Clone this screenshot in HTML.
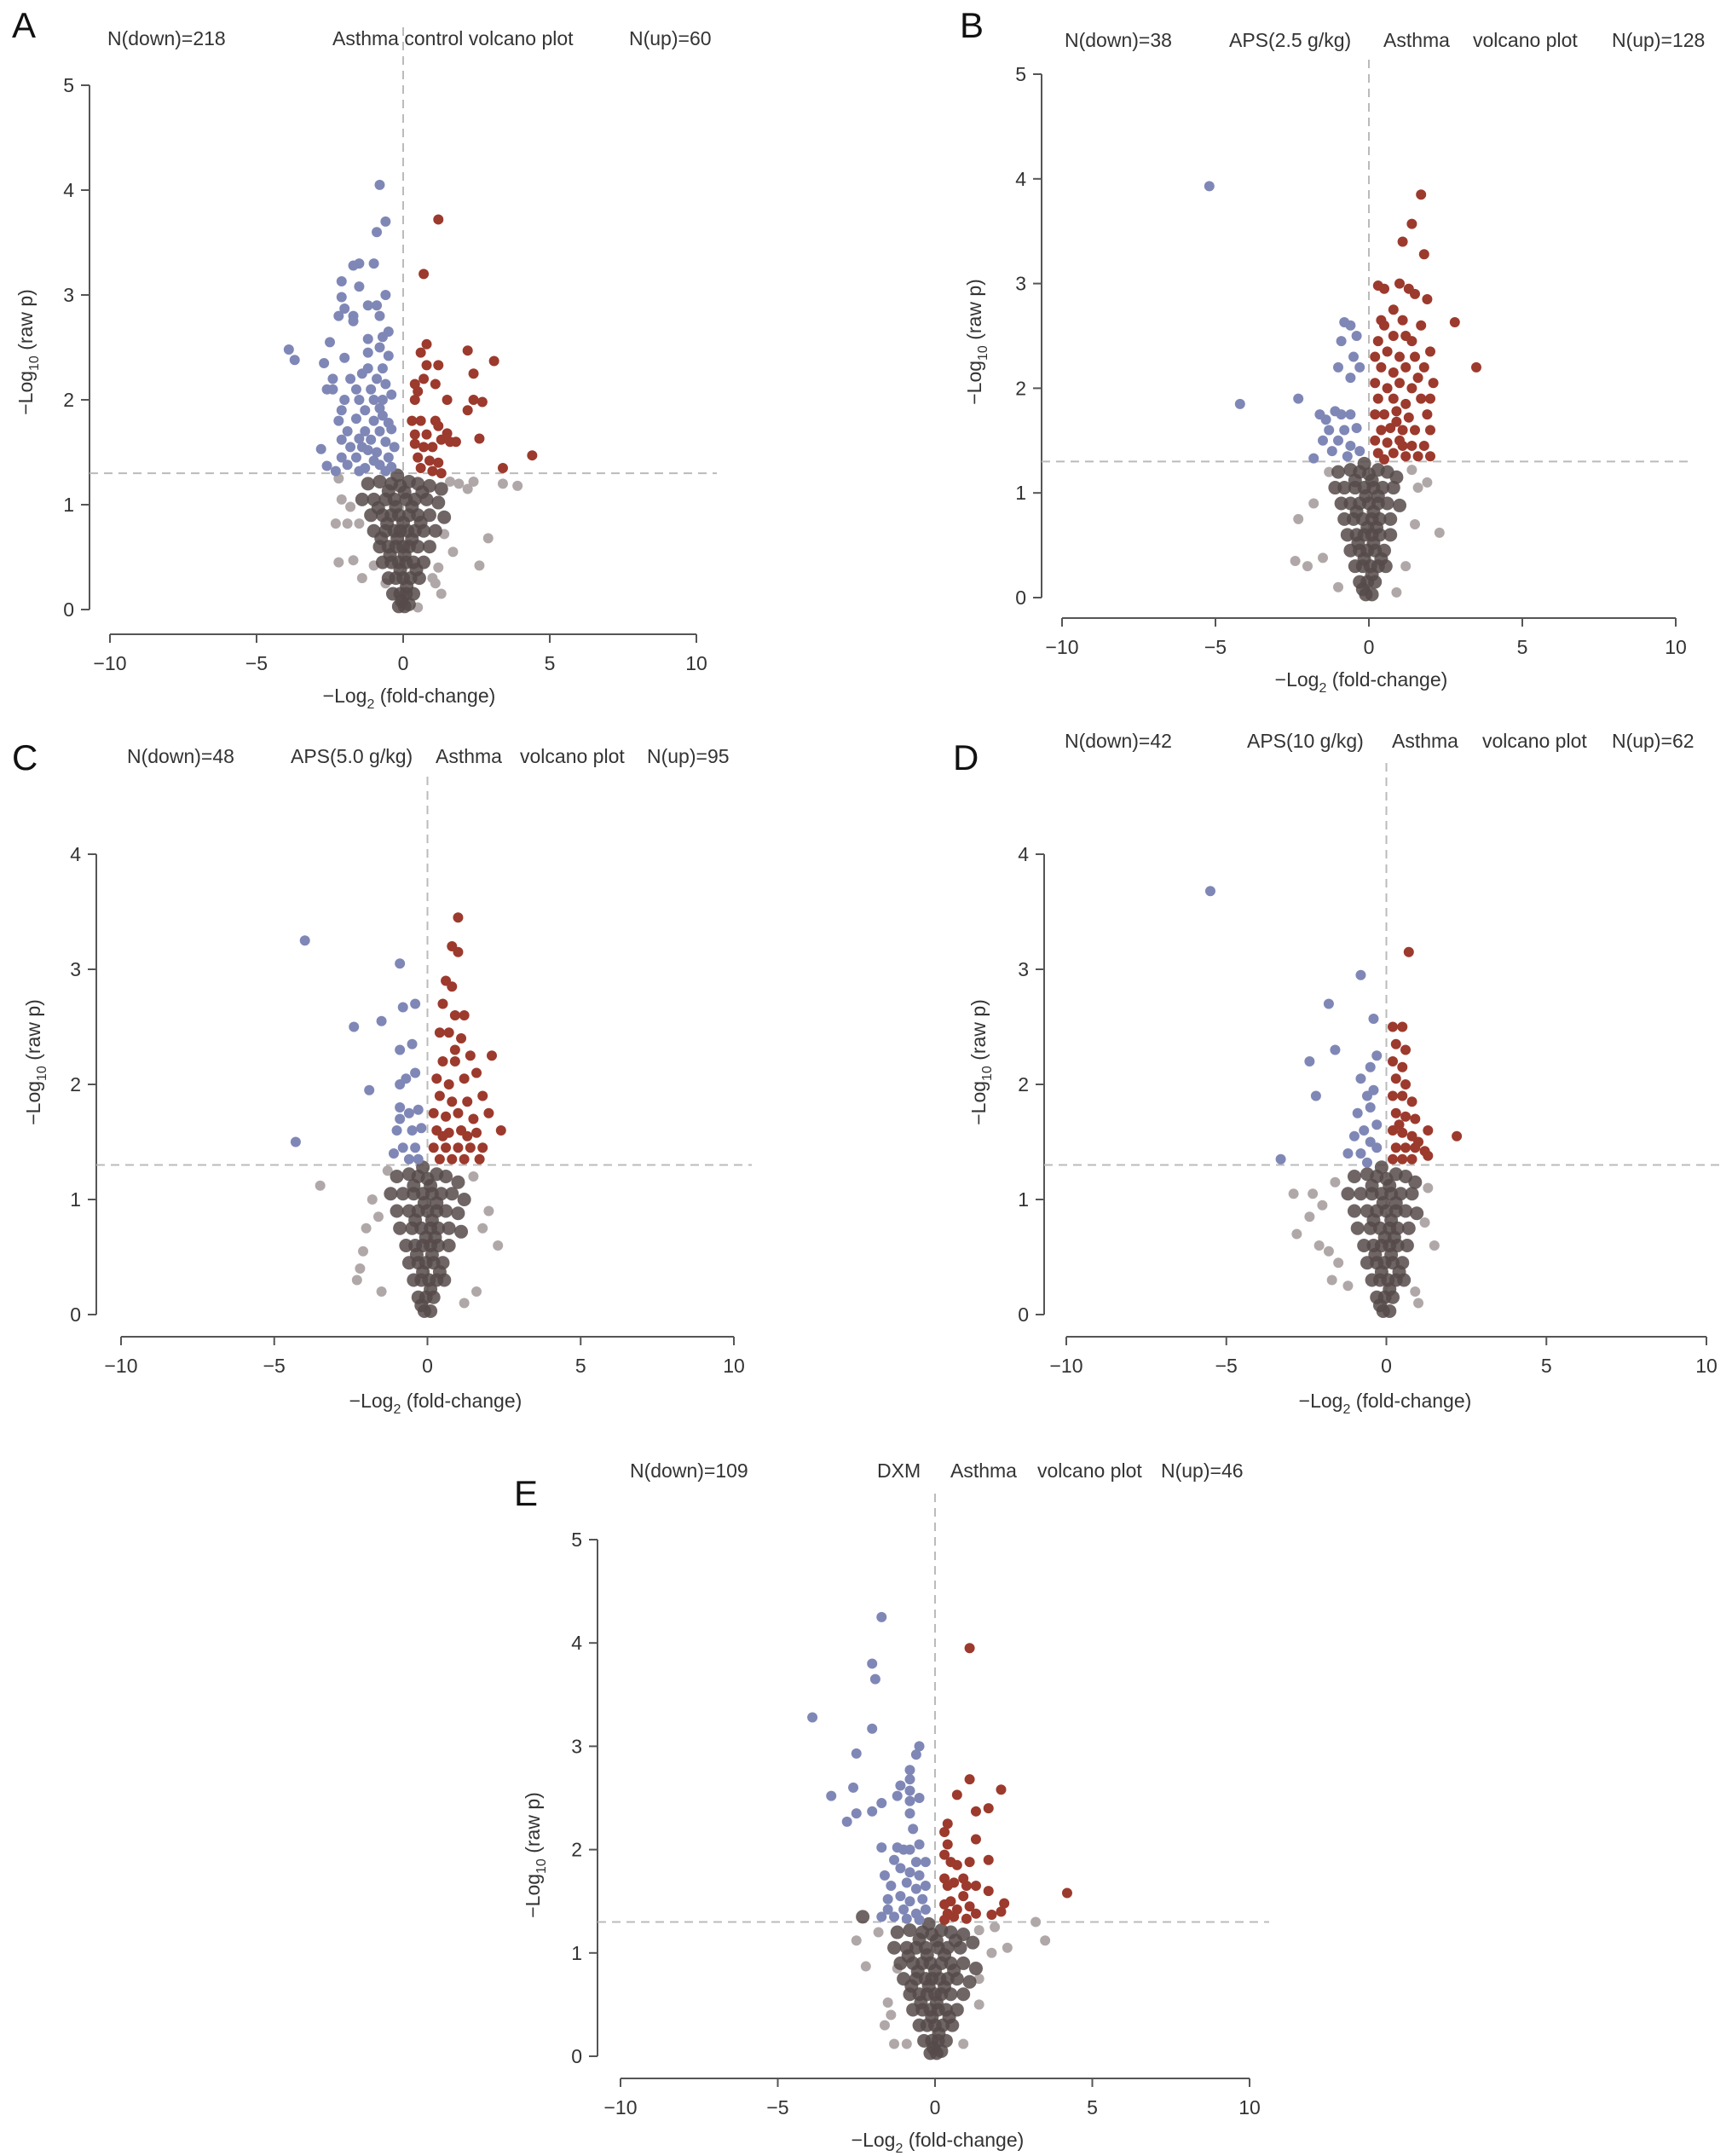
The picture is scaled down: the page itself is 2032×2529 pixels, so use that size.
<!DOCTYPE html>
<html><head><meta charset="utf-8">
<style>
html,body{margin:0;padding:0;background:#fff;}
svg{display:block;font-family:"Liberation Sans",Arial,sans-serif;}
</style></head>
<body>
<svg id="fig" width="2032" height="2529" viewBox="0 0 2032 2529" xmlns="http://www.w3.org/2000/svg"></svg>
<script>
// ---------- Data (x = -log2 fold-change, y = -log10 raw p) ----------
const downA = [[-0.8,4.05],[-0.6,3.7],[-0.9,3.6],[-1.5,3.3],[-1.7,3.28],[-1.0,3.3],[-2.1,3.13],[-1.5,3.08],[-2.1,2.98],[-1.2,2.9],[-0.6,3.0],[-0.9,2.9],[-2.0,2.87],[-2.2,2.8],[-1.7,2.8],[-0.8,2.8],[-1.7,2.75],[-0.5,2.65],[-0.7,2.6],[-1.2,2.58],[-2.5,2.55],[-3.9,2.48],[-3.7,2.38],[-2.7,2.35],[-2.0,2.4],[-1.2,2.45],[-0.8,2.5],[-0.5,2.42],[-1.4,2.25],[-2.4,2.2],[-1.8,2.2],[-0.9,2.2],[-2.6,2.1],[-2.4,2.1],[-1.6,2.1],[-1.1,2.1],[-0.6,2.15],[-2.0,2.0],[-1.5,2.0],[-1.0,2.0],[-0.7,2.0],[-0.4,2.05],[-2.1,1.9],[-1.3,1.9],[-0.8,1.92],[-2.2,1.8],[-1.6,1.82],[-1.0,1.8],[-0.5,1.78],[-1.9,1.7],[-1.3,1.7],[-0.8,1.7],[-0.4,1.72],[-2.1,1.62],[-1.5,1.63],[-1.1,1.62],[-0.6,1.6],[-2.8,1.53],[-1.8,1.55],[-1.2,1.52],[-0.9,1.5],[-0.3,1.55],[-2.1,1.45],[-1.6,1.45],[-1.0,1.42],[-0.5,1.45],[-2.6,1.37],[-1.9,1.38],[-1.3,1.35],[-0.8,1.38],[-0.4,1.36],[-2.3,1.32],[-1.5,1.32],[-0.6,1.32],[-1.2,2.3],[-0.7,2.3],[-1.4,1.55],[-0.7,1.85]];
const upA = [[1.2,3.72],[0.7,3.2],[0.8,2.53],[0.6,2.45],[2.2,2.47],[3.1,2.37],[1.2,2.33],[0.8,2.33],[0.4,2.15],[0.7,2.2],[1.1,2.15],[2.4,2.25],[0.5,2.08],[1.5,2.0],[2.4,2.0],[2.7,1.98],[2.2,1.9],[0.4,2.0],[0.3,1.8],[0.6,1.8],[1.1,1.8],[1.2,1.75],[0.4,1.67],[0.8,1.67],[1.3,1.62],[1.5,1.68],[1.8,1.6],[2.6,1.63],[0.4,1.58],[0.7,1.55],[1.0,1.55],[1.6,1.6],[4.4,1.47],[0.5,1.45],[0.9,1.42],[1.2,1.4],[0.6,1.35],[3.4,1.35],[1.0,1.32],[1.3,1.3]];
const grayA = [[3.4,1.2],[3.9,1.18],[2.4,1.22],[2.2,1.15],[1.9,1.2],[-2.1,1.05],[-1.8,0.98],[-2.3,0.82],[-1.9,0.82],[2.9,0.68],[1.7,0.55],[-2.2,0.45],[-1.7,0.47],[-1.0,0.42],[-1.4,0.3],[2.6,0.42],[1.2,0.4],[1.0,0.3],[1.3,0.15],[0.5,0.02],[1.1,0.25],[-0.6,0.25],[1.4,0.72],[-1.5,0.82],[1.6,1.22],[-2.2,1.25]];
const coreA = [[-1.2,1.2],[-0.8,1.22],[-0.4,1.2],[-0.1,1.18],[0.2,1.22],[0.5,1.2],[0.9,1.18],[1.3,1.15],[-1.4,1.05],[-1.0,1.05],[-0.6,1.05],[-0.3,1.05],[0.1,1.05],[0.4,1.05],[0.8,1.05],[1.2,1.02],[-1.1,0.9],[-0.7,0.9],[-0.4,0.9],[-0.15,0.9],[0.2,0.9],[0.5,0.9],[0.9,0.9],[1.4,0.88],[-1.0,0.75],[-0.6,0.75],[-0.3,0.75],[-0.1,0.75],[0.15,0.75],[0.4,0.75],[0.7,0.75],[1.1,0.75],[-0.8,0.6],[-0.5,0.6],[-0.25,0.6],[0.0,0.6],[0.2,0.6],[0.5,0.6],[0.9,0.6],[-0.7,0.45],[-0.4,0.45],[-0.15,0.45],[0.1,0.45],[0.35,0.45],[0.7,0.45],[-0.5,0.3],[-0.25,0.3],[0.0,0.3],[0.25,0.3],[0.55,0.3],[-0.35,0.15],[-0.1,0.15],[0.1,0.15],[0.35,0.15],[-0.15,0.03],[0.05,0.03],[0.2,0.05]];
const spineA = [[-0.2,1.28],[0.05,1.12],[-0.25,0.98],[0.0,0.83],[-0.2,0.68],[0.05,0.52],[-0.1,0.38],[0.12,0.22],[-0.05,0.08],[-0.5,1.13],[0.3,0.98],[-0.55,0.82],[0.3,0.67],[-0.45,0.52],[0.45,0.38],[-0.85,0.97],[0.65,1.12],[-0.75,0.68],[0.6,0.83]];

const downB = [[-5.2,3.93],[-4.2,1.85],[-2.3,1.9],[-0.6,2.6],[-0.8,2.63],[-0.4,2.5],[-0.9,2.45],[-0.5,2.3],[-1.0,2.2],[-0.6,2.1],[-0.3,2.2],[-1.1,1.78],[-1.6,1.75],[-1.4,1.7],[-0.9,1.75],[-0.6,1.75],[-1.3,1.6],[-0.8,1.6],[-0.4,1.62],[-1.5,1.5],[-1.0,1.5],[-0.6,1.45],[-1.2,1.4],[-0.7,1.35],[-0.3,1.4],[-1.8,1.33]];
const upB = [[1.7,3.85],[1.4,3.57],[1.8,3.28],[1.1,3.4],[2.8,2.63],[3.5,2.2],[0.3,2.98],[0.5,2.95],[1.0,3.0],[1.3,2.95],[0.8,2.75],[1.5,2.9],[1.9,2.85],[0.5,2.6],[1.1,2.65],[1.7,2.6],[0.3,2.45],[0.8,2.5],[1.4,2.45],[0.2,2.3],[0.6,2.35],[1.0,2.3],[1.5,2.3],[2.0,2.35],[0.4,2.2],[0.8,2.15],[1.2,2.2],[1.8,2.2],[0.2,2.05],[0.6,2.0],[1.0,2.05],[1.4,2.0],[2.1,2.05],[0.3,1.9],[0.8,1.9],[1.2,1.85],[1.7,1.9],[2.0,1.9],[0.2,1.75],[0.5,1.75],[0.9,1.78],[1.3,1.72],[1.9,1.75],[0.4,1.6],[0.7,1.62],[1.1,1.6],[1.5,1.6],[2.0,1.6],[0.2,1.5],[0.6,1.48],[1.0,1.5],[1.4,1.45],[1.8,1.45],[0.3,1.38],[0.8,1.38],[1.2,1.35],[1.6,1.35],[0.5,1.32],[2.0,1.35],[1.1,1.45],[0.9,1.68],[1.6,2.1],[0.4,2.65],[1.2,2.5]];
const grayB = [[-2.3,0.75],[-2.4,0.35],[-2.0,0.3],[-1.5,0.38],[2.3,0.62],[1.9,1.1],[1.6,1.05],[-1.8,0.9],[1.2,0.3],[-1.0,0.1],[0.9,0.05],[1.5,0.7],[-1.3,1.2],[1.4,1.22]];
const coreB = [[-1.0,1.2],[-0.6,1.22],[-0.3,1.2],[0.0,1.18],[0.3,1.22],[0.6,1.2],[0.9,1.15],[-1.1,1.05],[-0.8,1.05],[-0.45,1.05],[-0.15,1.05],[0.15,1.05],[0.45,1.05],[0.8,1.05],[-0.9,0.9],[-0.6,0.9],[-0.3,0.9],[0.0,0.9],[0.3,0.9],[0.6,0.9],[1.0,0.88],[-0.8,0.75],[-0.5,0.75],[-0.2,0.75],[0.1,0.75],[0.35,0.75],[0.7,0.75],[-0.7,0.6],[-0.4,0.6],[-0.15,0.6],[0.1,0.6],[0.35,0.6],[0.7,0.6],[-0.6,0.45],[-0.3,0.45],[-0.05,0.45],[0.2,0.45],[0.5,0.45],[-0.45,0.3],[-0.2,0.3],[0.05,0.3],[0.3,0.3],[0.55,0.3],[-0.3,0.15],[-0.05,0.15],[0.2,0.15],[-0.1,0.03],[0.1,0.03]];
const spineB = [[-0.15,1.28],[0.1,1.12],[-0.1,0.97],[0.15,0.82],[-0.05,0.67],[0.15,0.52],[-0.15,0.37],[0.1,0.22],[-0.2,0.08],[-0.45,1.12],[0.3,0.97],[-0.4,0.82],[0.25,0.67],[-0.35,0.52],[0.4,0.37]];

const downC = [[-4.0,3.25],[-0.9,3.05],[-0.4,2.7],[-0.8,2.67],[-1.5,2.55],[-2.4,2.5],[-0.9,2.3],[-0.5,2.35],[-0.7,2.05],[-0.9,2.0],[-0.4,2.1],[-1.9,1.95],[-4.3,1.5],[-0.9,1.8],[-0.6,1.75],[-0.3,1.78],[-1.0,1.6],[-0.5,1.6],[-0.2,1.62],[-0.8,1.45],[-0.4,1.45],[-0.6,1.35],[-0.3,1.35],[-1.1,1.4],[-0.9,1.7]];
const upC = [[1.0,3.45],[0.8,3.2],[1.0,3.15],[0.6,2.9],[0.8,2.85],[0.5,2.7],[0.9,2.6],[1.2,2.6],[0.4,2.45],[0.7,2.45],[1.1,2.4],[0.5,2.2],[0.9,2.2],[1.4,2.25],[2.1,2.25],[0.3,2.05],[0.7,2.0],[1.2,2.05],[1.6,2.1],[0.4,1.9],[0.8,1.85],[1.3,1.85],[1.8,1.9],[0.2,1.75],[0.6,1.72],[1.0,1.75],[1.5,1.7],[2.0,1.75],[0.3,1.6],[0.7,1.58],[1.1,1.6],[1.6,1.58],[2.4,1.6],[0.2,1.45],[0.6,1.45],[1.0,1.45],[1.4,1.45],[1.8,1.45],[0.4,1.35],[0.8,1.35],[1.2,1.35],[1.7,1.35],[0.9,2.3],[1.3,1.55],[0.5,1.55]];
const grayC = [[-3.5,1.12],[-1.8,1.0],[-2.0,0.75],[-2.1,0.55],[-2.2,0.4],[-2.3,0.3],[2.3,0.6],[2.0,0.9],[1.8,0.75],[-1.5,0.2],[1.6,0.2],[1.2,0.1],[-1.6,0.85],[1.5,1.2],[-1.3,1.25]];
const coreC = [[-1.0,1.2],[-0.6,1.22],[-0.3,1.2],[0.0,1.18],[0.3,1.22],[0.6,1.2],[1.0,1.15],[-1.2,1.05],[-0.8,1.05],[-0.45,1.05],[-0.15,1.05],[0.15,1.05],[0.45,1.05],[0.8,1.05],[1.2,1.0],[-1.0,0.9],[-0.6,0.9],[-0.3,0.9],[0.0,0.9],[0.3,0.9],[0.6,0.9],[1.0,0.88],[-0.9,0.75],[-0.5,0.75],[-0.2,0.75],[0.1,0.75],[0.35,0.75],[0.7,0.75],[1.1,0.72],[-0.7,0.6],[-0.4,0.6],[-0.15,0.6],[0.1,0.6],[0.35,0.6],[0.7,0.6],[-0.6,0.45],[-0.3,0.45],[-0.05,0.45],[0.2,0.45],[0.5,0.45],[-0.45,0.3],[-0.2,0.3],[0.05,0.3],[0.3,0.3],[0.55,0.3],[-0.3,0.15],[-0.05,0.15],[0.2,0.15],[-0.1,0.03],[0.1,0.03]];
const spineC = [[-0.15,1.28],[0.1,1.12],[-0.1,0.97],[0.15,0.82],[-0.05,0.67],[0.15,0.52],[-0.15,0.37],[0.1,0.22],[-0.2,0.08],[-0.45,1.12],[0.3,0.97],[-0.4,0.82],[0.25,0.67],[-0.35,0.52],[0.4,0.37]];

const downD = [[-5.5,3.68],[-0.8,2.95],[-1.8,2.7],[-0.4,2.57],[-1.6,2.3],[-2.4,2.2],[-0.3,2.25],[-0.8,2.05],[-0.5,2.15],[-2.2,1.9],[-0.6,1.9],[-0.4,1.95],[-3.3,1.35],[-0.9,1.75],[-0.5,1.8],[-0.7,1.6],[-0.3,1.65],[-1.0,1.55],[-0.5,1.5],[-0.8,1.4],[-0.3,1.45],[-1.2,1.4],[-0.6,1.32]];
const upD = [[0.7,3.15],[0.2,2.5],[0.5,2.5],[0.3,2.35],[0.6,2.3],[0.2,2.2],[0.5,2.15],[0.3,2.05],[0.6,2.0],[0.2,1.9],[0.5,1.9],[0.8,1.85],[0.3,1.75],[0.6,1.72],[0.9,1.7],[1.3,1.6],[2.2,1.55],[0.2,1.6],[0.5,1.58],[0.8,1.55],[0.3,1.45],[0.6,1.45],[0.9,1.45],[1.2,1.42],[0.2,1.35],[0.5,1.35],[0.8,1.35],[1.3,1.38],[1.0,1.5],[0.4,1.65]];
const grayD = [[-2.9,1.05],[-2.3,1.05],[-2.0,0.95],[-2.4,0.85],[-2.8,0.7],[-2.1,0.6],[-1.8,0.55],[-1.5,0.45],[-1.7,0.3],[1.2,0.8],[1.5,0.6],[0.9,0.2],[1.0,0.1],[-1.2,0.25],[-1.6,1.15],[1.3,1.1]];
const coreD = [[-1.0,1.2],[-0.6,1.22],[-0.3,1.2],[0.0,1.18],[0.3,1.22],[0.6,1.2],[0.9,1.15],[-1.2,1.05],[-0.8,1.05],[-0.45,1.05],[-0.15,1.05],[0.15,1.05],[0.45,1.05],[0.8,1.05],[-1.0,0.9],[-0.6,0.9],[-0.3,0.9],[0.0,0.9],[0.3,0.9],[0.6,0.9],[0.95,0.88],[-0.9,0.75],[-0.5,0.75],[-0.2,0.75],[0.1,0.75],[0.35,0.75],[0.7,0.75],[-0.7,0.6],[-0.4,0.6],[-0.15,0.6],[0.1,0.6],[0.35,0.6],[0.65,0.6],[-0.6,0.45],[-0.3,0.45],[-0.05,0.45],[0.2,0.45],[0.5,0.45],[-0.45,0.3],[-0.2,0.3],[0.05,0.3],[0.3,0.3],[0.55,0.3],[-0.3,0.15],[-0.05,0.15],[0.2,0.15],[-0.1,0.03],[0.1,0.03]];
const spineD = [[-0.15,1.28],[0.1,1.12],[-0.1,0.97],[0.15,0.82],[-0.05,0.67],[0.15,0.52],[-0.15,0.37],[0.1,0.22],[-0.2,0.08],[-0.45,1.12],[0.3,0.97],[-0.4,0.82],[0.25,0.67],[-0.35,0.52],[0.4,0.37]];

const downE = [[-1.7,4.25],[-2.0,3.8],[-1.9,3.65],[-3.9,3.28],[-2.0,3.17],[-0.5,3.0],[-0.6,2.92],[-2.5,2.93],[-0.8,2.77],[-1.1,2.62],[-0.8,2.68],[-2.6,2.6],[-0.8,2.57],[-1.2,2.52],[-3.3,2.52],[-0.5,2.5],[-0.8,2.47],[-1.7,2.45],[-2.5,2.35],[-2.0,2.37],[-0.8,2.35],[-2.8,2.27],[-0.7,2.2],[-0.5,2.05],[-1.7,2.02],[-1.2,2.02],[-1.0,2.0],[-0.8,2.0],[-1.3,1.9],[-0.6,1.88],[-0.3,1.88],[-1.6,1.75],[-1.1,1.82],[-0.8,1.78],[-0.5,1.75],[-1.4,1.65],[-0.9,1.68],[-0.6,1.62],[-0.3,1.65],[-1.5,1.52],[-1.1,1.55],[-0.8,1.5],[-0.4,1.52],[-1.5,1.42],[-1.0,1.42],[-0.6,1.38],[-0.3,1.42],[-1.3,1.35],[-0.9,1.33],[-0.5,1.32],[-1.7,1.35]];
const upE = [[1.1,3.95],[1.1,2.68],[0.7,2.53],[2.1,2.58],[1.7,2.4],[1.3,2.37],[0.4,2.25],[0.3,2.17],[1.3,2.1],[0.4,2.05],[0.3,1.95],[0.5,1.88],[0.7,1.85],[1.1,1.88],[1.7,1.9],[0.3,1.72],[0.6,1.68],[0.9,1.72],[0.4,1.65],[1.0,1.65],[1.3,1.65],[1.7,1.6],[4.2,1.58],[0.5,1.5],[0.9,1.55],[0.3,1.47],[1.1,1.45],[2.2,1.48],[0.4,1.38],[0.7,1.42],[1.3,1.38],[1.8,1.37],[2.1,1.4],[0.3,1.32],[0.6,1.35],[1.0,1.33]];
const grayE = [[-2.5,1.12],[-2.2,0.87],[3.2,1.3],[3.5,1.12],[2.3,1.05],[1.8,1.0],[1.4,1.22],[1.9,1.25],[-1.5,0.52],[-1.4,0.4],[-1.6,0.3],[-1.3,0.12],[-0.9,0.12],[1.4,0.5],[0.9,0.12],[1.4,0.75],[-1.2,0.85],[-1.8,1.2]];
const coreE = [[-2.3,1.35],[-1.2,1.2],[-0.8,1.22],[-0.4,1.2],[-0.1,1.18],[0.2,1.22],[0.5,1.2],[0.9,1.18],[1.2,1.1],[-1.3,1.05],[-0.9,1.05],[-0.6,1.05],[-0.3,1.05],[0.1,1.05],[0.4,1.05],[0.8,1.05],[-1.1,0.9],[-0.7,0.9],[-0.4,0.9],[-0.15,0.9],[0.2,0.9],[0.5,0.9],[0.9,0.9],[1.3,0.85],[-1.0,0.75],[-0.6,0.75],[-0.3,0.75],[-0.1,0.75],[0.15,0.75],[0.4,0.75],[0.7,0.75],[1.1,0.72],[-0.8,0.6],[-0.5,0.6],[-0.25,0.6],[0.0,0.6],[0.2,0.6],[0.5,0.6],[0.9,0.6],[-0.7,0.45],[-0.4,0.45],[-0.15,0.45],[0.1,0.45],[0.35,0.45],[0.7,0.45],[-0.5,0.3],[-0.25,0.3],[0.0,0.3],[0.25,0.3],[0.55,0.3],[-0.35,0.15],[-0.1,0.15],[0.1,0.15],[0.35,0.15],[-0.15,0.03],[0.05,0.03],[0.2,0.05]];
const spineE = [[-0.2,1.28],[0.05,1.12],[-0.25,0.98],[0.0,0.83],[-0.2,0.68],[0.05,0.52],[-0.1,0.38],[0.12,0.22],[-0.05,0.08],[-0.5,1.13],[0.3,0.98],[-0.55,0.82],[0.3,0.67],[-0.45,0.52],[0.45,0.38],[-0.85,0.97],[0.65,1.12],[-0.75,0.68],[0.6,0.83]];

const xTicks = [-10,-5,0,5,10];
const yTicks5 = [0,1,2,3,4,5];
const yTicks4 = [0,1,2,3,4];
const threshold = 1.3;

// ---------- Layout (pixel geometry) ----------
const panels = [
 {id:'a',letter:'A',letterX:14,letterY:44,yax:105,y0:715,yTop:100,yMax:5,yt:yTicks5,xaxY:744,xMin:129,xMax:817,vTop:32,hRight:841,
  titles:[['N(down)=218',126],['Asthma control volcano plot',390],['N(up)=60',738]],titleY:53,ylabX:38,ylabY:413,xlabX:480,xlabY:824,
  down:downA,up:upA,gray:grayA,core:coreA,spine:spineA},
 {id:'b',letter:'B',letterX:1126,letterY:44,yax:1222,y0:701,yTop:87,yMax:5,yt:yTicks5,xaxY:725,xMin:1246,xMax:1966,vTop:70,hRight:1987,
  titles:[['N(down)=38',1249],['APS(2.5 g/kg)',1442],['Asthma',1623],['volcano plot',1728],['N(up)=128',1891]],titleY:55,ylabX:1151,ylabY:401,xlabX:1597,xlabY:805,
  down:downB,up:upB,gray:grayB,core:coreB,spine:spineB},
 {id:'c',letter:'C',letterX:14,letterY:903,yax:113,y0:1542,yTop:1002,yMax:4,yt:yTicks4,xaxY:1568,xMin:142,xMax:861,vTop:911,hRight:882,
  titles:[['N(down)=48',149],['APS(5.0 g/kg)',341],['Asthma',511],['volcano plot',610],['N(up)=95',759]],titleY:895,ylabX:47,ylabY:1246,xlabX:511,xlabY:1651,
  down:downC,up:upC,gray:grayC,core:coreC,spine:spineC},
 {id:'d',letter:'D',letterX:1118,letterY:903,yax:1225,y0:1542,yTop:1002,yMax:4,yt:yTicks4,xaxY:1568,xMin:1251,xMax:2002,vTop:895,hRight:2022,
  titles:[['N(down)=42',1249],['APS(10 g/kg)',1463],['Asthma',1633],['volcano plot',1739],['N(up)=62',1891]],titleY:877,ylabX:1156,ylabY:1246,xlabX:1625,xlabY:1651,
  down:downD,up:upD,gray:grayD,core:coreD,spine:spineD},
 {id:'e',letter:'E',letterX:603,letterY:1766,yax:701,y0:2412,yTop:1806,yMax:5,yt:yTicks5,xaxY:2438,xMin:728,xMax:1466,vTop:1752,hRight:1489,
  titles:[['N(down)=109',739],['DXM',1029],['Asthma',1115],['volcano plot',1217],['N(up)=46',1362]],titleY:1733,ylabX:633,ylabY:2176,xlabX:1100,xlabY:2518,
  down:downE,up:upE,gray:grayE,core:coreE,spine:spineE}
];

const NS='http://www.w3.org/2000/svg';
const svg=document.getElementById('fig');
function mk(tag,attrs,parent){const el=document.createElementNS(NS,tag);for(const k in attrs)el.setAttribute(k,attrs[k]);(parent||svg).appendChild(el);return el;}

panels.forEach(p=>{
  const g=mk('g',{});
  
  
  const xs=v=>p.xMin+(v+10)/20*(p.xMax-p.xMin);
  const ys=v=>p.y0-v/p.yMax*(p.y0-p.yTop);
  const FS=23, TC='#333';

  const L=mk('text',{x:p.letterX,y:p.letterY,'font-size':42,fill:'#111'},g);L.textContent=p.letter;
  
  
  p.titles.forEach(t=>{const e=mk('text',{x:t[1],y:p.titleY,'font-size':FS,fill:TC},g);e.textContent=t[0];
    
    });

  const ya=mk('line',{x1:p.yax,x2:p.yax,y1:ys(p.yMax),y2:ys(0),stroke:'#555','stroke-width':2},g);
  
  
  p.yt.forEach(v=>{
    mk('line',{x1:p.yax-10,x2:p.yax,y1:ys(v),y2:ys(v),stroke:'#555','stroke-width':2},g);
    const t=mk('text',{x:p.yax-18,y:ys(v)+8,'font-size':FS,'text-anchor':'end',fill:TC},g);t.textContent=v;
    
    
  });
  const xa=mk('line',{x1:xs(-10),x2:xs(10),y1:p.xaxY,y2:p.xaxY,stroke:'#555','stroke-width':2},g);
  
  
  xTicks.forEach(v=>{
    mk('line',{x1:xs(v),x2:xs(v),y1:p.xaxY,y2:p.xaxY+10,stroke:'#555','stroke-width':2},g);
    const t=mk('text',{x:xs(v),y:p.xaxY+42,'font-size':FS,'text-anchor':'middle',fill:TC},g);t.textContent=(v<0?'\u2212':'')+Math.abs(v);
    
    
  });
  const yl=mk('text',{x:0,y:0,'font-size':FS,'text-anchor':'middle',fill:TC,transform:`translate(${p.ylabX},${p.ylabY}) rotate(-90)`},g);
  yl.innerHTML='\u2212Log<tspan font-size="16" dy="7">10</tspan><tspan dy="-7"> (raw p)</tspan>';
  
  
  const xl=mk('text',{x:p.xlabX,y:p.xlabY,'font-size':FS,'text-anchor':'middle',fill:TC},g);
  xl.innerHTML='\u2212Log<tspan font-size="16" dy="7">2</tspan><tspan dy="-7"> (fold-change)</tspan>';
  
  

  const vl=mk('line',{x1:xs(0),x2:xs(0),y1:p.vTop,y2:ys(0),stroke:'#bbb','stroke-width':2,'stroke-dasharray':'10 7'},g);
  
  
  const hl=mk('line',{x1:p.yax,x2:p.hRight,y1:ys(threshold),y2:ys(threshold),stroke:'#bbb','stroke-width':2,'stroke-dasharray':'10 7'},g);
  
  

  const R=6;
  p.gray.forEach(d=>{const c=mk('circle',{cx:xs(d[0]),cy:ys(d[1]),r:R,fill:'#b0a8a8'},g);
    
    });
  p.core.forEach(d=>{const c=mk('circle',{cx:xs(d[0]),cy:ys(d[1]),r:R+2,fill:'#564a4a','fill-opacity':0.85},g);
    
    });
  p.spine.forEach(d=>{const c=mk('circle',{cx:xs(d[0]),cy:ys(d[1]),r:R+2,fill:'#564a4a','fill-opacity':0.85},g);
    
    });
  p.down.forEach(d=>{const c=mk('circle',{cx:xs(d[0]),cy:ys(d[1]),r:R,fill:'#7f87b6'},g);
    
    });
  p.up.forEach(d=>{const c=mk('circle',{cx:xs(d[0]),cy:ys(d[1]),r:R,fill:'#9c3a2d'},g);
    
    });
});
</script>
</body></html>
